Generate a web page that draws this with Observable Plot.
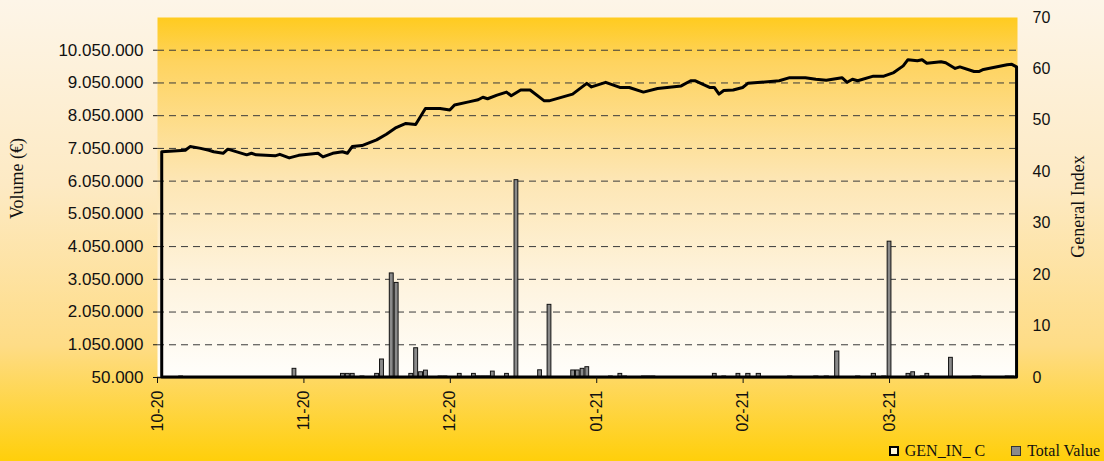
<!DOCTYPE html>
<html>
<head>
<meta charset="utf-8">
<script src="https://cdn.jsdelivr.net/npm/d3@7"></script>
<script src="https://cdn.jsdelivr.net/npm/@observablehq/plot@0.6"></script>
<style>
html, body { margin: 0; padding: 0; }
body {
  width: 1104px; height: 461px; overflow: hidden;
  background: linear-gradient(to bottom, #fdf5e8 0%, #fdeac4 40%, #fedc86 75%, #ffcf0a 100%);
}
#chart svg { display: block; }
#legend {
  height: 20px; display: flex; justify-content: flex-end; align-items: center;
  font-family: "Liberation Serif", "Times New Roman", serif; font-size: 16px; color: #111;
  padding-right: 4px; gap: 26px;
}
#legend .item { display: flex; align-items: center; gap: 6px; }
#legend .sw { display: inline-block; box-sizing: border-box; width: 10px; height: 10px; }
</style>
</head>
<body>
<div id="chart"></div>
<div id="legend"></div>
<script>
// ---- data ----
const seriesNames = ["GEN_IN_ C", "Total Value"];
const axisTitles = ["Volume (€)", "General Index"];
const monthLabels = ["10-20", "11-20", "12-20", "01-21", "02-21", "03-21"];
const leftTicks = [50000, 1050000, 2050000, 3050000, 4050000, 5050000, 6050000, 7050000, 8050000, 9050000, 10050000];
const rightTicks = [0, 10, 20, 30, 40, 50, 60, 70];

// General index (right axis)
const indexDates = [
  "2020-10-02","2020-10-07","2020-10-08","2020-10-10","2020-10-12","2020-10-13","2020-10-15","2020-10-16",
  "2020-10-20","2020-10-21","2020-10-22","2020-10-26","2020-10-27","2020-10-29","2020-10-31",
  "2020-11-04","2020-11-05","2020-11-07","2020-11-09","2020-11-10","2020-11-11","2020-11-13","2020-11-16",
  "2020-11-18","2020-11-20","2020-11-22","2020-11-24","2020-11-26","2020-11-29",
  "2020-12-01","2020-12-02","2020-12-05","2020-12-07","2020-12-08","2020-12-09","2020-12-11","2020-12-13",
  "2020-12-14","2020-12-16","2020-12-18","2020-12-21","2020-12-22","2020-12-27","2020-12-30","2020-12-31",
  "2021-01-03","2021-01-06","2021-01-08","2021-01-11","2021-01-14","2021-01-19","2021-01-21","2021-01-22",
  "2021-01-25","2021-01-26","2021-01-27","2021-01-28","2021-01-30",
  "2021-02-01","2021-02-02","2021-02-08","2021-02-10","2021-02-13","2021-02-15","2021-02-17","2021-02-20",
  "2021-02-21","2021-02-22","2021-02-23","2021-02-26","2021-02-28",
  "2021-03-02","2021-03-04","2021-03-05","2021-03-07","2021-03-08","2021-03-09","2021-03-12","2021-03-13",
  "2021-03-15","2021-03-16","2021-03-19","2021-03-20","2021-03-21","2021-03-26","2021-03-27","2021-03-28"
];
const indexValues = [
  43.8,44.1,44.8,44.5,44.1,43.8,43.5,44.3,
  43.2,43.5,43.2,43.0,43.3,42.6,43.1,
  43.5,42.8,43.5,43.8,43.5,44.8,45.0,46.1,
  47.2,48.5,49.3,49.1,52.2,52.2,
  51.9,52.9,53.5,53.9,54.4,54.1,54.8,55.4,
  54.7,55.8,55.8,53.7,53.7,55.0,57.1,56.4,
  57.3,56.3,56.3,55.4,56.1,56.6,57.6,57.6,
  56.3,56.3,55.0,55.7,55.8,
  56.3,57.1,57.6,58.2,58.2,57.9,57.7,58.2,
  57.3,57.9,57.6,58.5,58.5,
  59.2,60.5,61.7,61.5,61.7,61.0,61.3,61.1,
  60.0,60.3,59.4,59.4,59.8,60.7,60.8,60.3
];

// Total value (left axis, €)
const volumeDates = [
  "2020-10-06","2020-10-30",
  "2020-11-09","2020-11-10","2020-11-11","2020-11-13","2020-11-16","2020-11-17","2020-11-19","2020-11-20",
  "2020-11-23","2020-11-24","2020-11-25","2020-11-26","2020-11-29","2020-11-30",
  "2020-12-03","2020-12-06","2020-12-07","2020-12-08","2020-12-09","2020-12-10","2020-12-13","2020-12-15",
  "2020-12-20","2020-12-22","2020-12-27","2020-12-28","2020-12-29","2020-12-30",
  "2021-01-04","2021-01-06","2021-01-07","2021-01-11","2021-01-12","2021-01-13","2021-01-26","2021-01-28","2021-01-31",
  "2021-02-02","2021-02-04","2021-02-10","2021-02-15","2021-02-17","2021-02-19","2021-02-23","2021-02-26","2021-02-28",
  "2021-03-01","2021-03-05","2021-03-06","2021-03-08","2021-03-09","2021-03-14","2021-03-19","2021-03-20",
  "2021-03-26","2021-03-27"
];
const volumeValues = [
  80000, 315000,
  160000, 160000, 160000, 80000, 160000, 600000, 3230000, 2940000,
  160000, 944000, 210000, 260000, 80000, 80000,
  160000, 160000, 80000, 80000, 80000, 230000, 160000, 6080000,
  270000, 2270000, 265000, 265000, 315000, 365000,
  80000, 160000, 80000, 80000, 80000, 80000, 160000, 80000, 160000,
  160000, 160000, 80000, 80000, 80000, 843000, 80000, 160000, 80000,
  4200000, 160000, 210000, 80000, 160000, 651000, 80000, 80000,
  80000, 80000
];

// ---- helpers ----
const Y0 = 50000, Y1 = 11050000, R1 = 70;
const toLeft = v => Y0 + v * (Y1 - Y0) / R1;
const fromLeft = y => (y - Y0) * R1 / (Y1 - Y0);
function daysIn(s) { const [y, m] = s.split("-").map(Number); return new Date(Date.UTC(y, m, 0)).getUTCDate(); }
function monthPos(s) {
  const [y, m, d] = s.split("-").map(Number);
  return (y - 2020) * 12 + (m - 10) + (d - 1) / daysIn(s);
}
const fmt = d3.formatLocale({decimal: ",", thousands: ".", grouping: [3], currency: ["", "€"]}).format(",d");

const indexData = indexDates.map((d, i) => ({x: monthPos(d), v: indexValues[i]}));
const barHalf = 0.4; // in days
const volumeData = volumeDates.map((d, i) => ({
  x1: monthPos(d) - barHalf / daysIn(d),
  x2: monthPos(d) + barHalf / daysIn(d),
  v: volumeValues[i]
}));

const chart = Plot.plot({
  width: 1104, height: 441,
  marginLeft: 157, marginRight: 87, marginTop: 17, marginBottom: 64,
  style: {background: "transparent", fontFamily: "'Liberation Sans', Arial, sans-serif", fontSize: "16px", color: "#111", overflow: "visible"},
  x: {domain: [0, 5.874]},
  y: {domain: [Y0, Y1]},
  marks: [
    Plot.frame({fill: "url(#plotBg)", stroke: "none"}),
    Plot.ruleY(leftTicks.slice(1), {stroke: "#3a3a3a", strokeDasharray: "7,5", strokeWidth: 1}),
    Plot.rect(volumeData, {x1: "x1", x2: "x2", y1: () => Y0, y2: "v", fill: "#8a8a8a", stroke: "#111", strokeWidth: 1}),
    Plot.ruleY([Y0], {stroke: "#222", strokeWidth: 1.5}),
    Plot.area(indexData, {x1: "x", y1: () => Y0, y2: d => toLeft(d.v), fill: "none", stroke: "#000", strokeWidth: 3, strokeLinejoin: "round"}),
    Plot.axisY({ticks: leftTicks, tickFormat: fmt, tickSize: 4, tickPadding: 10, label: null, fontSize: 17}),
    Plot.axisY({anchor: "right", ticks: rightTicks.map(toLeft), tickFormat: d => String(Math.round(fromLeft(d))), tickSize: 0, tickPadding: 15, label: null}),
    Plot.axisX({ticks: [0, 1, 2, 3, 4, 5], tickFormat: i => monthLabels[i], tickRotate: -90, tickSize: 6, tickPadding: 7, label: null}),
    Plot.text([axisTitles[0]], {frameAnchor: "left", dx: -140, dy: -19, rotate: -90, textAnchor: "middle", fontFamily: "'Liberation Serif', serif", fontSize: 18}),
    Plot.text([axisTitles[1]], {frameAnchor: "right", dx: 61, dy: 9, rotate: -90, textAnchor: "middle", fontFamily: "'Liberation Serif', serif", fontSize: 18})
  ]
});

// plot-area gradient
const NS = "http://www.w3.org/2000/svg";
const defs = document.createElementNS(NS, "defs");
const grad = document.createElementNS(NS, "linearGradient");
grad.setAttribute("id", "plotBg");
grad.setAttribute("x1", "0"); grad.setAttribute("y1", "0"); grad.setAttribute("x2", "0"); grad.setAttribute("y2", "1");
[["0%", "#ffcb1f"], ["12%", "#fed35e"], ["45%", "#fde6b4"], ["75%", "#fef4e0"], ["100%", "#fffefb"]].forEach(([o, c]) => {
  const s = document.createElementNS(NS, "stop");
  s.setAttribute("offset", o); s.setAttribute("stop-color", c);
  grad.appendChild(s);
});
defs.appendChild(grad);
chart.insertBefore(defs, chart.firstChild);
document.getElementById("chart").appendChild(chart);

// legend
const legend = document.getElementById("legend");
const swatchStyles = [
  "border:2.5px solid #000;background:#fff6d8;",
  "border:1px solid #333;background:#8a8a8a;"
];
seriesNames.forEach((name, i) => {
  const item = document.createElement("span");
  item.className = "item";
  const sw = document.createElement("span");
  sw.className = "sw";
  sw.style.cssText = swatchStyles[i];
  item.appendChild(sw);
  item.appendChild(document.createTextNode(name));
  legend.appendChild(item);
});
</script>
</body>
</html>
